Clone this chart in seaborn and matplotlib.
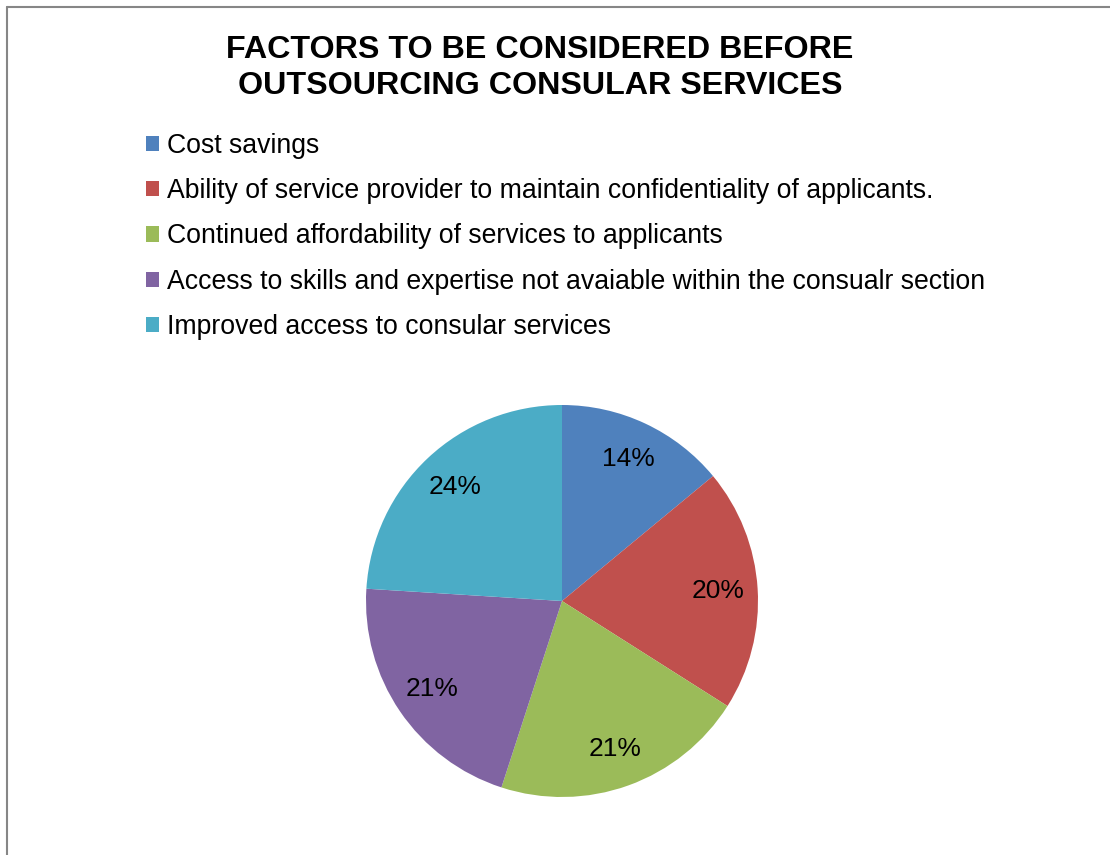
import matplotlib
matplotlib.use("Agg")
import matplotlib.pyplot as plt
from matplotlib.lines import Line2D
import seaborn as sns

# Survey shares (percent) for each factor
factors = [
    "Cost savings",
    "Ability of service provider to maintain confidentiality of applicants.",
    "Continued affordability of services to applicants",
    "Access to skills and expertise not avaiable within the consualr section",
    "Improved access to consular services",
]
shares = [14, 20, 21, 21, 24]
slice_colors = ["#4F81BD", "#C0504D", "#9BBB59", "#8064A2", "#4BACC6"]

sns.set_theme(style="white")
plt.rcParams["font.family"] = ["Liberation Sans", "DejaVu Sans"]
plt.rcParams["text.color"] = "black"

W, H = 1110, 855
fig = plt.figure(figsize=(W / 100, H / 100), dpi=100)
fig.patch.set_facecolor("white")

# Pie axes: centre (562, 601) px from top-left, radius 196 px
cx, cy, r = 562, 601, 196
ax = fig.add_axes([(cx - r) / W, (H - cy - r) / H, 2 * r / W, 2 * r / H])
palette = sns.color_palette(slice_colors)
wedges, texts, autotexts = ax.pie(
    shares,
    colors=palette,
    startangle=90,
    counterclock=False,
    autopct="%1.0f%%",
    pctdistance=0.8,
    radius=1.0,
    wedgeprops=dict(linewidth=0),
    textprops=dict(fontsize=19, color="black"),
)
ax.set_xlim(-1, 1)
ax.set_ylim(-1, 1)
ax.set_aspect("equal")
ax.axis("off")

# Title
fig.text(540 / W, 1 - 68 / H,
         "FACTORS TO BE CONSIDERED BEFORE\nOUTSOURCING CONSULAR SERVICES",
         ha="center", va="center", fontsize=23.2, fontweight="bold",
         linespacing=1.3, color="black")

# Legend
leg = fig.legend(wedges, factors, loc="upper left",
                 bbox_to_anchor=(146 / W, 1 - 133 / H),
                 frameon=False, fontsize=19.2,
                 handlelength=0.5, handleheight=0.5, handletextpad=0.3,
                 labelspacing=0.72, borderpad=0, borderaxespad=0)
for t in leg.get_texts():
    t.set_color("black")

# Chart frame (top and left edges)
frame_col = "#868686"
fig.add_artist(Line2D([7 / W, 1], [1 - 7 / H, 1 - 7 / H],
                      transform=fig.transFigure, color=frame_col, lw=1.5))
fig.add_artist(Line2D([7 / W, 7 / W], [0, 1 - 7 / H],
                      transform=fig.transFigure, color=frame_col, lw=1.5))

fig.savefig("out.png", dpi=100, facecolor="white")
